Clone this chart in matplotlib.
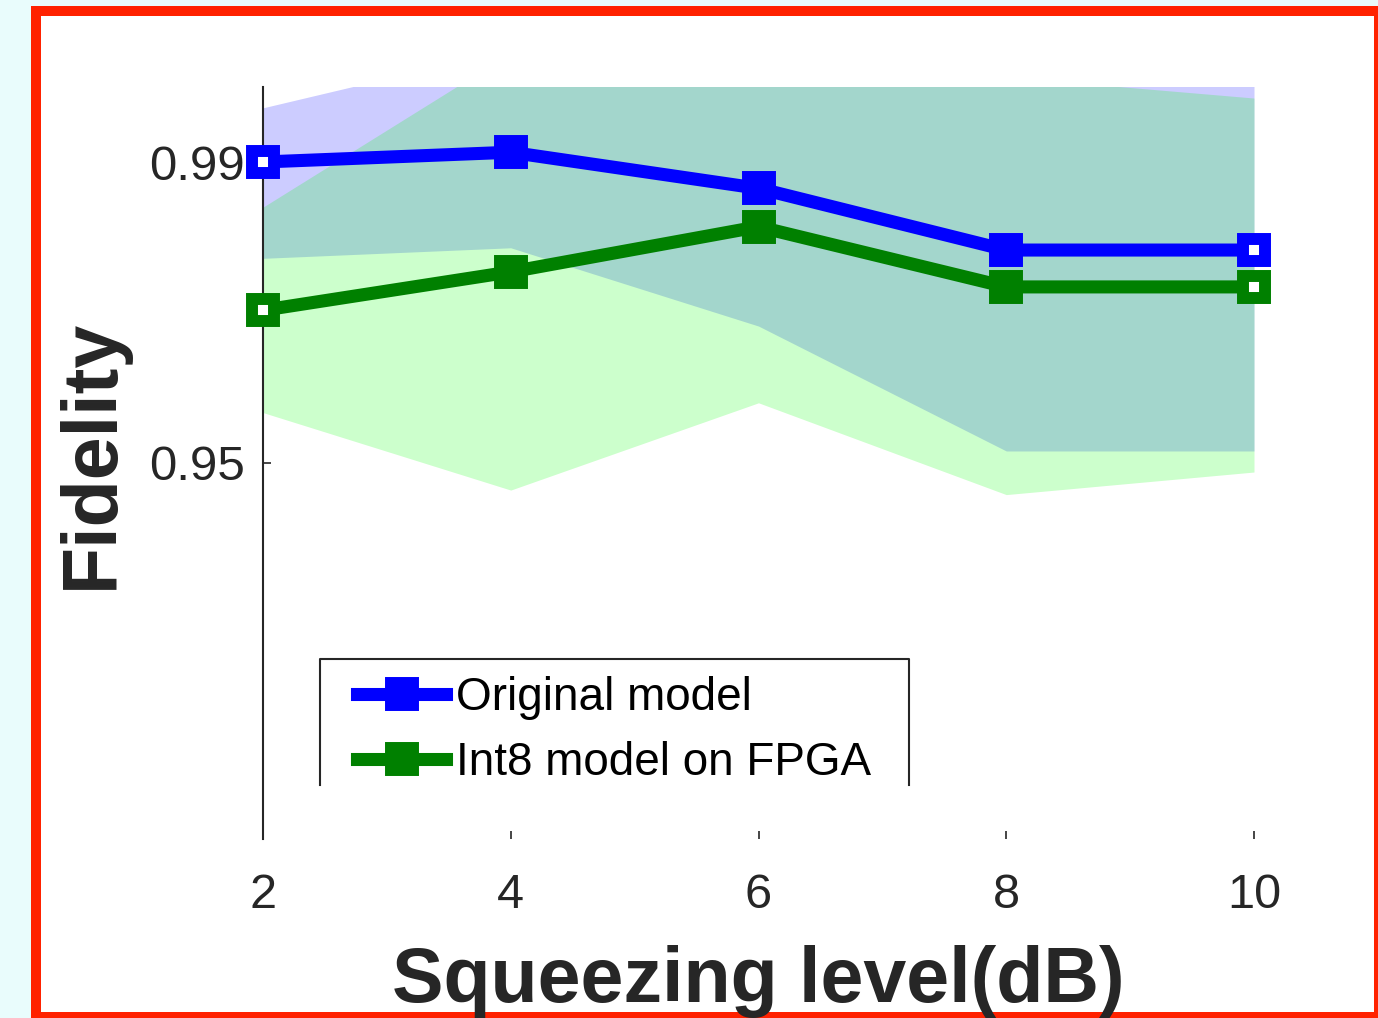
import matplotlib
matplotlib.use("Agg")
import matplotlib.pyplot as plt
import numpy as np
from matplotlib.lines import Line2D
from matplotlib.patches import Rectangle

# Fidelity vs squeezing level, original model vs quantised model on FPGA
x_db = np.array([2, 4, 6, 8, 10])

orig_mean = np.array([0.9900, 0.9913, 0.9865, 0.9783, 0.9783])
orig_upper = np.array([0.9972, 1.0050, 1.0100, 1.0080, 1.0040])
orig_lower = np.array([0.9772, 0.9786, 0.9682, 0.9516, 0.9516])

int8_mean = np.array([0.9703, 0.9754, 0.9814, 0.9734, 0.9734])
int8_upper = np.array([0.9840, 1.0045, 1.0060, 1.0013, 0.9985])
int8_lower = np.array([0.9567, 0.9464, 0.9580, 0.9458, 0.9488])

series_labels = ["Original model", "Int8 model on FPGA"]
x_ticks = [2, 4, 6, 8, 10]
y_ticks = [0.95, 0.99]

plt.rcParams["font.family"] = ["Liberation Sans", "DejaVu Sans"]
TXT = "#262626"

W, H = 1378, 1018
fig = plt.figure(figsize=(W / 100, H / 100), dpi=100)
fig.patch.set_facecolor("#e9fcfc")

# red frame with white panel inside
fig.patches.append(Rectangle((31 / W, 0), 1 - 31 / W, (H - 6) / H,
                             transform=fig.transFigure, facecolor="#ff2200",
                             edgecolor="none", zorder=-2))
fig.patches.append(Rectangle((41 / W, 6 / H), (1374 - 41) / W, (1012 - 16) / H,
                             transform=fig.transFigure, facecolor="white",
                             edgecolor="none", zorder=-1))

ax_l, ax_r = 263, 1254
ax_t, ax_b = 86.75, 839.25
ax = fig.add_axes([ax_l / W, 1 - ax_b / H, (ax_r - ax_l) / W, (ax_b - ax_t) / H])
ax.set_facecolor("none")

blue = (0, 0, 1)
green = (0, 0.5, 0)

ax.fill_between(x_db, orig_lower, orig_upper, color=(0, 0, 1), alpha=0.2,
                linewidth=0, zorder=1)
ax.fill_between(x_db, int8_lower, int8_upper, color=(0, 1, 0), alpha=0.2,
                linewidth=0, zorder=1.1)

lw = 9.4
ms = 16.5
mew = 8.6
for mean, col in [(orig_mean, blue), (int8_mean, green)]:
    ax.plot(x_db, mean, color=col, lw=lw, zorder=3, clip_on=False,
            solid_capstyle="butt")
    ax.plot(x_db[1:-1], mean[1:-1], "s", color=col, ms=ms, mew=mew,
            mfc=col, mec=col, zorder=4, clip_on=False)
    ax.plot(x_db[[0, -1]], mean[[0, -1]], "s", color=col, ms=ms, mew=mew,
            mfc="white", mec=col, zorder=4, clip_on=False)

ax.set_xlim(2, 10)
ax.set_ylim(0.9, 1.0)
ax.set_xticks(x_ticks)
ax.set_xticklabels([str(t) for t in x_ticks])
ax.set_yticks(y_ticks)
ax.set_yticklabels([f"{t:g}" for t in y_ticks])

for side in ["top", "right", "bottom"]:
    ax.spines[side].set_visible(False)
ax.spines["left"].set_color(TXT)
ax.spines["left"].set_linewidth(1.5)

ax.tick_params(axis="both", direction="in", length=6, width=1.2, color=TXT,
               labelcolor=TXT)
ax.tick_params(axis="y", pad=13, labelsize=35.5)
ax.tick_params(axis="x", pad=24, labelsize=35)

ax.set_xlabel("Squeezing level(dB)", fontsize=55.5, fontweight="bold", color=TXT,
              va="baseline")
ax.xaxis.set_label_coords(0.5, (ax_b - 1002) / (ax_b - ax_t))
ax.set_ylabel("Fidelity", fontsize=55.5, fontweight="bold", color=TXT, va="center")
ax.yaxis.set_label_coords((92 - ax_l) / (ax_r - ax_l), (ax_b - 454) / (ax_b - ax_t))

handles = [Line2D([], [], color=c, lw=lw, marker="s", ms=ms, mew=mew, mfc=c, mec=c)
           for c in (blue, green)]
leg = ax.legend(handles, series_labels, loc="upper left", frameon=False,
                bbox_to_anchor=((357 - ax_l) / (ax_r - ax_l), (ax_b - 676) / (ax_b - ax_t)),
                borderaxespad=0, borderpad=0, fontsize=33, handlelength=1.95,
                handletextpad=0.22, labelspacing=0.45)
for t in leg.get_texts():
    t.set_color("black")

# legend box, open at the bottom
fx = lambda px: (px - ax_l) / (ax_r - ax_l)
fy = lambda py: (ax_b - py) / (ax_b - ax_t)
ax.add_line(Line2D([fx(320), fx(320), fx(909), fx(909)],
                   [fy(785), fy(659), fy(659), fy(785)],
                   transform=ax.transAxes, color=TXT, lw=1.5, clip_on=False,
                   zorder=5))

fig.savefig("out.png", dpi=100)
